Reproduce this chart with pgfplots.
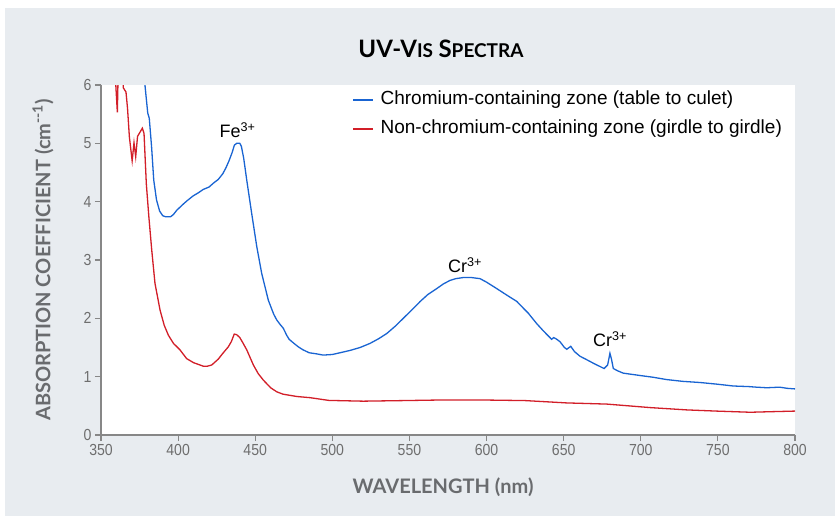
\documentclass[border=0pt]{standalone}
\usepackage{fontspec}
\usepackage{pgfplots}
\pgfplotsset{compat=1.18}
\setmainfont{Liberation Sans}
\newfontfamily\labelfont{Lato}
\newfontfamily\tickfont[FakeStretch=0.88]{Liberation Sans}
\definecolor{panel}{RGB}{232,236,240}
\definecolor{cblue}{RGB}{25,100,210}
\definecolor{cred}{RGB}{210,30,40}
\definecolor{labgray}{RGB}{105,107,110}
\definecolor{tickgray}{RGB}{110,110,110}
\definecolor{axgray}{RGB}{135,135,135}

\pgfplotstableread{
x y
377.5 6.3
378.5 6.0
380.3 5.52
381.3 5.43
382.8 4.94
384.2 4.37
386 4.03
388 3.84
390 3.76
392 3.74
395 3.74
397 3.78
399 3.85
401 3.90
403.4 3.96
406 4.02
409.8 4.10
413 4.15
416.3 4.21
420 4.25
423 4.32
426 4.38
429 4.48
431 4.58
433 4.70
435 4.84
436.5 4.97
438 5.0
440 5.0
441 4.95
442.5 4.75
444.5 4.37
447.7 3.80
451 3.23
454.2 2.77
458.5 2.31
462 2.07
464 1.97
466 1.90
468.2 1.83
470.4 1.71
472 1.64
474.7 1.58
478 1.51
481 1.46
485 1.41
490 1.39
494 1.37
500 1.38
505 1.41
511.5 1.45
518 1.50
524.4 1.57
530 1.65
535.3 1.74
541 1.87
546 2.00
551 2.13
557 2.29
562 2.41
567.7 2.51
572 2.59
576.3 2.65
580 2.68
585 2.70
590 2.70
595.8 2.68
600 2.62
606.6 2.51
613 2.40
619.6 2.29
624 2.17
627 2.09
632.5 1.91
637 1.78
642.2 1.64
643.5 1.67
645 1.65
647.6 1.60
650.5 1.50
652 1.47
654.6 1.52
657 1.43
660.6 1.35
665 1.29
670 1.22
676.2 1.14
678.5 1.20
680 1.40
681 1.30
682.2 1.14
685 1.10
688.7 1.06
699.5 1.02
708 0.99
716.8 0.95
727 0.92
738.4 0.90
750 0.87
760 0.84
770 0.83
775 0.82
781.7 0.81
790 0.82
795 0.80
800 0.79
}\bluedata

\pgfplotstableread{
x y
359 6.3
359.8 5.9
360.6 5.53
361.2 6.3
363.8 6.3
364.5 5.95
366.2 5.88
367.2 5.60
368.4 5.11
370.2 4.70
371.4 5.01
372.5 4.77
373.7 5.12
375.5 5.20
376.8 5.26
377.9 5.17
379.4 4.30
381 3.75
382.9 3.17
385 2.60
388.3 2.14
391 1.88
393.7 1.71
397 1.57
401.2 1.46
405.5 1.31
410 1.24
416.3 1.18
419 1.18
421.8 1.20
426 1.30
429 1.40
432.5 1.51
434.5 1.60
436.4 1.73
438 1.72
440 1.67
442 1.58
444.5 1.46
448.8 1.20
452 1.05
455.3 0.94
460 0.81
464 0.74
468 0.70
477 0.66
485.5 0.64
498.5 0.59
502.8 0.59
520 0.58
546 0.59
570 0.60
598 0.60
625 0.59
652 0.55
678 0.53
706 0.47
730 0.43
749 0.41
771 0.39
785 0.40
800 0.41
}\reddata

\begin{document}
\begin{tikzpicture}
\fill[white] (0,0) rectangle (835pt,523pt);
\fill[panel] (5pt,7pt) rectangle (835pt,515pt);
\begin{axis}[
  at={(101pt,88pt)}, anchor=south west,
  scale only axis, width=694pt, height=350pt,
  xmin=350, xmax=800, ymin=0, ymax=6,
  axis background/.style={fill=white},
  axis x line*=bottom, axis y line*=left,
  axis line style={axgray, line width=1.1pt},
  tick align=outside, tick style={axgray, line width=1.1pt},
  major tick length=6pt,
  xtick={350,400,...,800}, ytick={0,1,...,6},
  tick label style={tickgray, font=\tickfont\fontsize{16}{18}\selectfont},
  /pgf/number format/assume math mode=true,
  legend style={at={(0.362,0.982)}, anchor=north west, draw=none, fill=none,
    font=\fontsize{19}{21}\selectfont, inner sep=0pt, row sep=12pt,
    nodes={text height=13pt, text depth=4pt, inner sep=0pt}},
  legend cell align=left,
  legend image code/.code={\draw[#1, line width=1.2pt] (0pt,0pt) -- (20pt,0pt);},
]
\addplot[cblue, line width=1.3pt] table {\bluedata};
\addlegendentry{\hspace{7pt}Chromium-containing zone (table to culet)}
\addplot[cred, line width=1.3pt] table {\reddata};
\addlegendentry{\hspace{7pt}Non-chromium-containing zone (girdle to girdle)}
\node[anchor=base, font=\fontsize{18}{20}\selectfont] at (axis cs:438.5,5.1) {Fe\textsuperscript{3+}};
\node[anchor=base, font=\fontsize{18}{20}\selectfont] at (axis cs:586,2.78) {Cr\textsuperscript{3+}};
\node[anchor=base, font=\fontsize{18}{20}\selectfont] at (axis cs:680,1.51) {Cr\textsuperscript{3+}};
\end{axis}
\node[font=\labelfont\bfseries] at (441pt,474pt) {{\fontsize{24}{24}\selectfont UV-V}{\fontsize{19}{19}\selectfont IS}\hspace{3pt} {\fontsize{24}{24}\selectfont S}{\fontsize{19}{19}\selectfont PECTRA}};
\node[font=\labelfont\bfseries\fontsize{20}{22}\selectfont, text=labgray] at (443pt,36pt) {WAVELENGTH (nm)};
\node[font=\labelfont\bfseries\fontsize{20}{22}\selectfont, text=labgray, rotate=90] at (43pt,263pt) {ABSORPTION COEFFICIENT (cm\textsuperscript{--1})};
\end{tikzpicture}
\end{document}
